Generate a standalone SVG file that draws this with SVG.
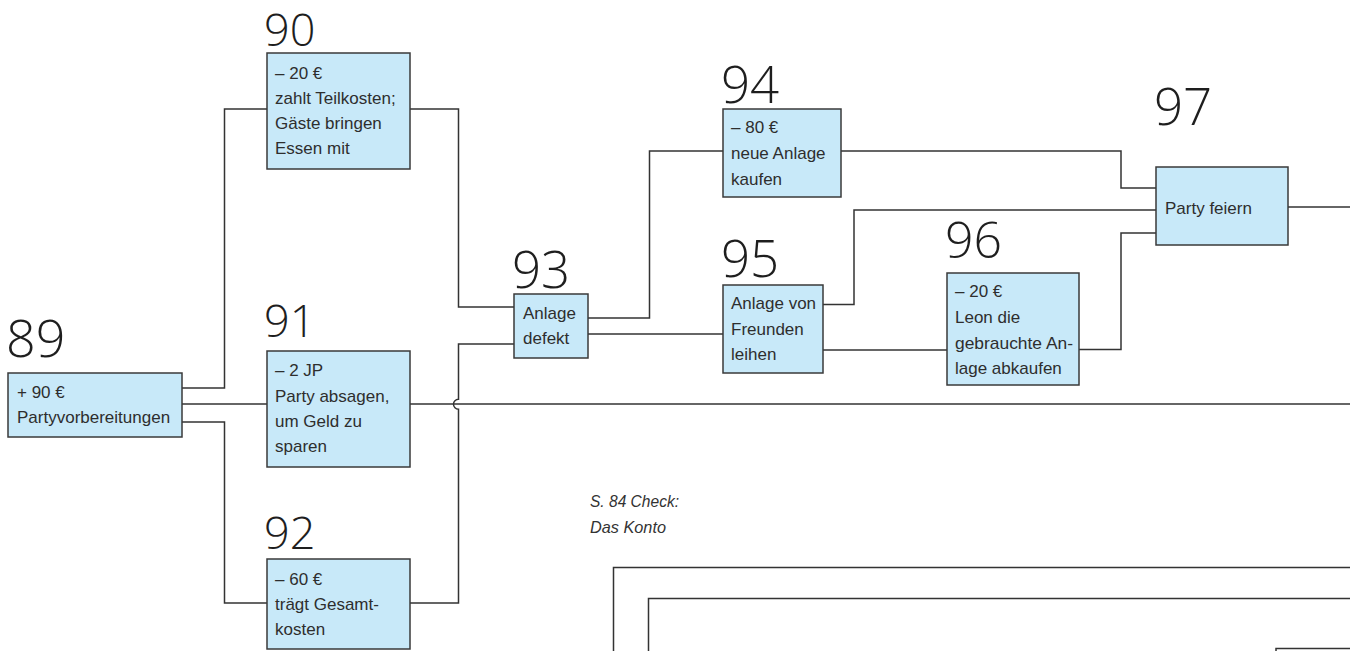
<svg xmlns="http://www.w3.org/2000/svg" width="1350" height="651" viewBox="0 0 1350 651">
<style>
.bg{fill:#ffffff}
.box{fill:#c8e9f9;stroke:#3a3a3a;stroke-width:1.5}
.t{font-family:"Liberation Sans",Arial,sans-serif;font-size:17px;fill:#2e2e2e}
.num{font-family:"Open Sans","Liberation Sans",sans-serif;font-weight:300;font-size:48px;fill:#1e1e1e}
.ital{font-family:"Liberation Sans",Arial,sans-serif;font-style:italic;font-size:16.5px;fill:#333}
.c{fill:none;stroke:#333;stroke-width:1.5}
</style>
<rect class="bg" x="0" y="0" width="1350" height="651"/>
<g id="connectors">
<path class="c" d="M182,388 H224.5 V109 H267"/>
<path class="c" d="M182,404 H267"/>
<path class="c" d="M182,422 H224.5 V603 H267"/>
<path class="c" d="M410,109 H458.5 V307 H514"/>
<path class="c" d="M410,603 H458.5 V409.3 A5,5 0 0 1 458.5,399.3 V344 H514"/>
<path class="c" d="M410,404 H1350"/>
<path class="c" d="M588,318 H649.5 V151 H723"/>
<path class="c" d="M588,334 H723"/>
<path class="c" d="M841,151 H1121 V188 H1156"/>
<path class="c" d="M823,304.5 H854 V210 H1156"/>
<path class="c" d="M823,350 H947"/>
<path class="c" d="M1079,349.5 H1121 V233 H1156"/>
<path class="c" d="M1288,207 H1350"/>
</g>
<g id="n89">
<text class="num" x="6" y="357" style="font-size:52px">89</text>
<rect class="box" x="8" y="373" width="174" height="64"/>
<text class="t" x="17" y="398">+ 90 €</text>
<text class="t" x="17" y="423">Partyvorbereitungen</text>
</g>
<g id="n90">
<text class="num" x="264" y="46" style="font-size:45px">90</text>
<rect class="box" x="267" y="53" width="143" height="116"/>
<text class="t" x="275" y="79">– 20 €</text>
<text class="t" x="275" y="104">zahlt Teilkosten;</text>
<text class="t" x="275" y="129">Gäste bringen</text>
<text class="t" x="275" y="154">Essen mit</text>
</g>
<g id="n91">
<text class="num" x="264" y="337" style="font-size:45px">91</text>
<rect class="box" x="267" y="351" width="143" height="116"/>
<text class="t" x="275" y="376">– 2 JP</text>
<text class="t" x="275" y="401.5">Party absagen,</text>
<text class="t" x="275" y="426.5">um Geld zu</text>
<text class="t" x="275" y="452">sparen</text>
</g>
<g id="n92">
<text class="num" x="264" y="549" style="font-size:45px">92</text>
<rect class="box" x="267" y="559" width="143" height="90"/>
<text class="t" x="275" y="585">– 60 €</text>
<text class="t" x="275" y="610">trägt Gesamt-</text>
<text class="t" x="275" y="635">kosten</text>
</g>
<g id="n93">
<text class="num" x="512" y="288" style="font-size:51px">93</text>
<rect class="box" x="514" y="294" width="74" height="64"/>
<text class="t" x="523" y="319">Anlage</text>
<text class="t" x="523" y="344">defekt</text>
</g>
<g id="n94">
<text class="num" x="721" y="103" style="font-size:51px">94</text>
<rect class="box" x="723" y="109" width="118" height="88"/>
<text class="t" x="731" y="133">– 80 €</text>
<text class="t" x="731" y="159">neue Anlage</text>
<text class="t" x="731" y="185">kaufen</text>
</g>
<g id="n95">
<text class="num" x="721" y="277" style="font-size:51px">95</text>
<rect class="box" x="723" y="285" width="100" height="88"/>
<text class="t" x="731" y="309">Anlage von</text>
<text class="t" x="731" y="335">Freunden</text>
<text class="t" x="731" y="360">leihen</text>
</g>
<g id="n96">
<text class="num" x="945" y="258" style="font-size:50px">96</text>
<rect class="box" x="947" y="273" width="132" height="112"/>
<text class="t" x="955" y="297">– 20 €</text>
<text class="t" x="955" y="323">Leon die</text>
<text class="t" x="955" y="349" textLength="118" lengthAdjust="spacingAndGlyphs">gebrauchte An-</text>
<text class="t" x="955" y="374">lage abkaufen</text>
</g>
<g id="n97">
<text class="num" x="1154" y="125" style="font-size:51px">97</text>
<rect class="box" x="1156" y="167" width="132" height="78"/>
<text class="t" x="1165" y="214">Party feiern</text>
</g>
<g id="note">
<text class="ital" x="590" y="506.5" textLength="89" lengthAdjust="spacingAndGlyphs">S. 84 Check:</text>
<text class="ital" x="590" y="532.5" textLength="76" lengthAdjust="spacingAndGlyphs">Das Konto</text>
</g>
<g id="frames">
<path class="c" d="M613.5,652 V567.5 H1351"/>
<path class="c" d="M648.5,652 V598.5 H1351"/>
<path class="c" d="M1276,652 V648.5 H1351"/>
</g>
</svg>
